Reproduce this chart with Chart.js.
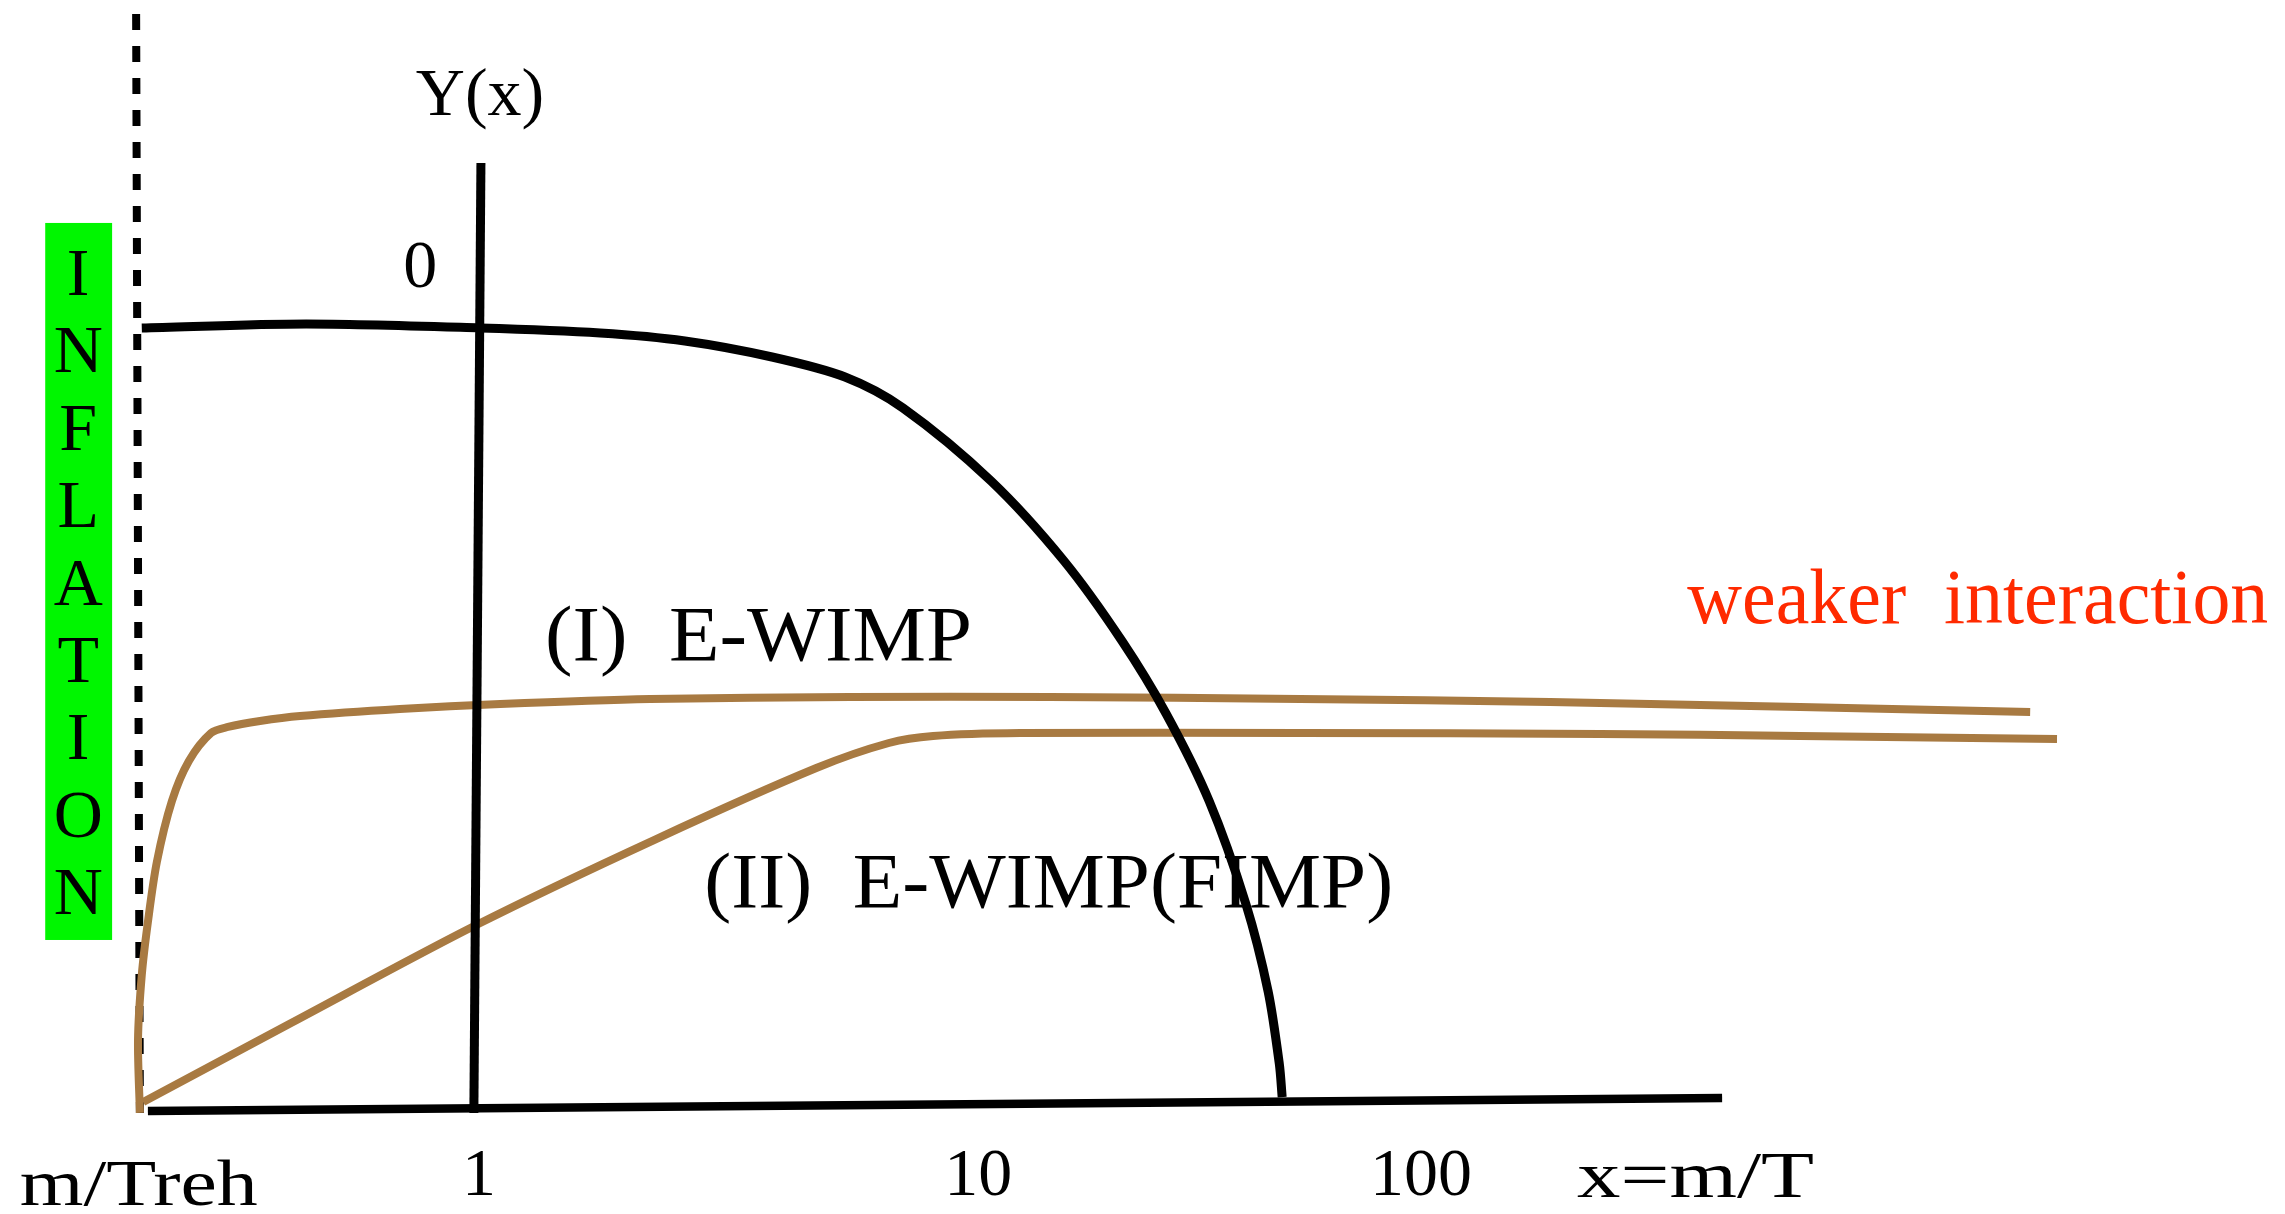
<!DOCTYPE html>
<html>
<head>
<meta charset="utf-8">
<title>Y(x)</title>
<script src="https://cdn.jsdelivr.net/npm/chart.js@4.4.1/dist/chart.umd.min.js"></script>
<style>
  html, body { margin: 0; padding: 0; background: #fff; }
  canvas { display: block; }
</style>
</head>
<body>
<canvas id="chart" width="2285" height="1214"></canvas>
<script>
// x: log10(m/T), 0 at x = 1.  y: log Y in sketch units, 0 on the top plateau.
const equilibriumX = [-0.716, -0.367, 0.002, 0.257, 0.437, 0.622, 0.777, 0.900, 1.087, 1.242, 1.365, 1.459, 1.550, 1.628, 1.675, 1.699, 1.705];
const equilibriumY = [0, 0.051, 0, -0.064, -0.166, -0.371, -0.627, -1.023, -1.957, -2.980, -4.003, -4.936, -6.049, -7.366, -8.478, -9.412, -9.834];

// (I) E-WIMP
const wimpX = [-0.720, -0.724, -0.716, -0.703, -0.684, -0.652, -0.616, -0.569, -0.533, -0.465, -0.380, -0.168, 0.045, 0.363, 0.788, 1.212, 1.743, 2.274, 2.805, 3.293];
const wimpY = [-10.038, -9.105, -8.274, -7.596, -6.829, -6.049, -5.537, -5.179, -5.102, -5.026, -4.962, -4.872, -4.808, -4.744, -4.719, -4.719, -4.744, -4.783, -4.847, -4.910];

// (II) E-WIMP(FIMP)
const fimpX = [-0.713, -0.399, -0.006, 0.376, 0.716, 0.870, 0.964, 1.149, 1.743, 2.380, 2.805, 3.350];
const fimpY = [-9.898, -8.887, -7.634, -6.535, -5.627, -5.307, -5.217, -5.179, -5.179, -5.192, -5.217, -5.256];

// hand-drawn axes and the reheating line at m/Treh
const yAxisX = [0.004, -0.011];
const yAxisY = [2.110, -10.038];
const xAxisX = [-0.703, 2.639];
const xAxisY = [-10.013, -9.847];
const rehX = [-0.728, -0.720];
const rehY = [4.015, -10.038];

// inflation band
const inflationX = [-0.921, -0.779];
const inflationY = [-7.826, 1.343];
const inflationLetters = ['I', 'N', 'F', 'L', 'A', 'T', 'I', 'O', 'N'];

const tickValues = [0, 1.06, 2.0];
const tickLabels = ['1', '10', '100'];

const BROWN = '#a87a42';
const GREEN = '#00f600';
const RED = '#ff2a00';
const SERIF = '"Liberation Serif", "DejaVu Serif", serif';

const notes = [
  { text: 'Y(x)', x: 0.002, y: 2.724, size: 68, align: 'center' },
  { text: '0', x: -0.125, y: 0.524, size: 68, align: 'center' },
  { text: '(I)  E-WIMP', x: 0.140, y: -4.246, size: 78, width: 427 },
  { text: '(II)  E-WIMP(FIMP)', x: 0.478, y: -7.404, size: 78, width: 689 },
  { text: 'weaker  interaction', x: 2.565, y: -3.772, size: 78, width: 581, color: RED },
  { text: 'm/Treh', x: -0.975, y: -11.215, size: 66, width: 238 },
  { text: 'x=m/T', x: 2.331, y: -11.11, size: 66, width: 237 }
];

function series(xs, ys) {
  return xs.map((v, i) => ({ x: v, y: ys[i] }));
}

function drawNote(ctx, xs, ys, n) {
  ctx.save();
  ctx.font = n.size + 'px ' + SERIF;
  ctx.fillStyle = n.color || '#000';
  ctx.textBaseline = 'alphabetic';
  ctx.textAlign = n.align || 'left';
  ctx.translate(xs.getPixelForValue(n.x), ys.getPixelForValue(n.y));
  if (n.width) {
    ctx.scale(n.width / ctx.measureText(n.text).width, 1);
  }
  ctx.fillText(n.text, 0, 0);
  ctx.restore();
}

const sketchPlugin = {
  id: 'sketch',
  beforeDatasetsDraw(chart) {
    const { ctx, scales: { x, y } } = chart;
    const left = x.getPixelForValue(inflationX[0]);
    const right = x.getPixelForValue(inflationX[1]);
    const top = y.getPixelForValue(inflationY[1]);
    const bottom = y.getPixelForValue(inflationY[0]);
    ctx.save();
    ctx.fillStyle = GREEN;
    ctx.fillRect(left, top, right - left, bottom - top);
    ctx.fillStyle = '#000';
    ctx.font = '68px ' + SERIF;
    ctx.textAlign = 'center';
    ctx.textBaseline = 'alphabetic';
    const cx = x.getPixelForValue(-0.851);
    inflationLetters.forEach((ch, i) => {
      ctx.fillText(ch, cx, y.getPixelForValue(0.422 - i * 0.99));
    });
    ctx.restore();
  },
  afterDatasetsDraw(chart) {
    const { ctx, scales: { x, y } } = chart;
    notes.forEach(n => drawNote(ctx, x, y, n));
    tickLabels.forEach((t, i) => {
      drawNote(ctx, x, y, { text: t, x: tickValues[i], y: -11.09, size: 68, align: 'center' });
    });
  }
};

const line = { showLine: true, pointRadius: 0, fill: false, borderJoinStyle: 'round' };

new Chart(document.getElementById('chart'), {
  type: 'scatter',
  data: {
    datasets: [
      { ...line, label: 'Y(x)', data: series(yAxisX, yAxisY), borderColor: '#000', borderWidth: 9, tension: 0 },
      { ...line, label: 'x=m/T', data: series(xAxisX, xAxisY), borderColor: '#000', borderWidth: 8.5, tension: 0 },
      { ...line, label: 'equilibrium', data: series(equilibriumX, equilibriumY), borderColor: '#000', borderWidth: 9, tension: 0.3 },
      { ...line, label: '(I) E-WIMP', data: series(wimpX, wimpY), borderColor: BROWN, borderWidth: 8, tension: 0.3 },
      { ...line, label: '(II) E-WIMP(FIMP)', data: series(fimpX, fimpY), borderColor: BROWN, borderWidth: 8, tension: 0.3 },
      { ...line, label: 'm/Treh', data: series(rehX, rehY), borderColor: '#000', borderWidth: 8, borderDash: [16, 16], tension: 0 }
    ]
  },
  options: {
    responsive: false,
    animation: false,
    devicePixelRatio: 1,
    layout: { padding: 0 },
    plugins: { legend: { display: false }, tooltip: { enabled: false } },
    scales: {
      x: { type: 'linear', display: false, min: -1.017, max: 3.834 },
      y: { type: 'linear', display: false, min: -11.33, max: 4.194 }
    }
  },
  plugins: [sketchPlugin]
});
</script>
</body>
</html>
